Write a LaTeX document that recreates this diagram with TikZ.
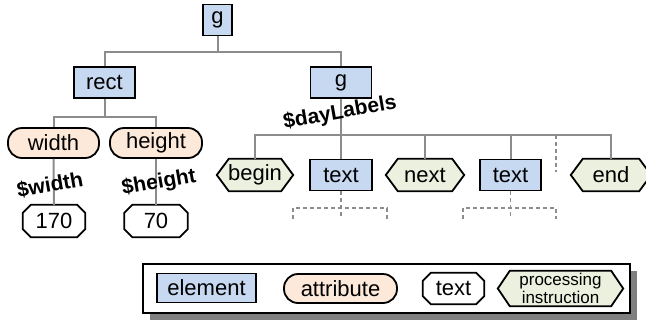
\documentclass[tikz,border=0pt]{standalone}
\usepackage{fontspec}
\setmainfont{Liberation Sans}
\usetikzlibrary{calc}
\pgfdeclarelayer{bg}
\pgfsetlayers{bg,main}
\definecolor{elemblue}{HTML}{C6D9F1}
\definecolor{attrpeach}{HTML}{FDE9D9}
\definecolor{pigreen}{HTML}{EBF1DE}
\definecolor{conngray}{HTML}{8C8C8C}
\definecolor{shadowgray}{HTML}{808080}
\tikzset{
  shapeline/.style={draw=black, line width=1.8pt, line join=miter},
}
\newcommand\octoshape[1]{%
  \begin{pgfonlayer}{bg}
  \path[shapeline, fill=white]
    ([xshift=8pt]#1.north west) -- ([xshift=-8pt]#1.north east)
    -- ([yshift=-8pt]#1.north east) -- ([yshift=8pt]#1.south east)
    -- ([xshift=-8pt]#1.south east) -- ([xshift=8pt]#1.south west)
    -- ([yshift=8pt]#1.south west) -- ([yshift=-8pt]#1.north west) -- cycle;
  \end{pgfonlayer}}
\newcommand\hexshape[1]{%
  \begin{pgfonlayer}{bg}
  \path[shapeline, fill=pigreen]
    (#1.west) -- ([xshift=12pt]#1.north west) -- ([xshift=-12pt]#1.north east)
    -- (#1.east) -- ([xshift=-12pt]#1.south east) -- ([xshift=12pt]#1.south west) -- cycle;
  \end{pgfonlayer}}
\begin{document}
\begin{tikzpicture}[x=1pt,y=-1pt,
  every node/.style={inner sep=0pt, font=\fontsize{22}{25}\selectfont},
  elem/.style={draw=black, line width=1.8pt, fill=elemblue, minimum height=31pt},
  attr/.style={draw=black, line width=1.8pt, fill=attrpeach, rounded corners=14pt, minimum height=30pt},
  txtbox/.style={minimum height=32pt},
  pibox/.style={minimum height=32pt},
  conn/.style={draw=conngray, line width=2pt},
  dashconn/.style={draw=conngray, line width=1.5pt, dash pattern=on 4pt off 3pt},
  lbl/.style={font=\fontsize{21}{24}\selectfont\bfseries, rotate=10},
]
\useasboundingbox (0,0) rectangle (646,322);

% legend frame (background layer, below the legend shapes)
\begin{pgfonlayer}{bg}
\fill[shadowgray] (150,271) rectangle (637,320);
\draw[fill=white, line width=1.2pt] (143,264) rectangle (630,313);
\end{pgfonlayer}

% tree nodes
\node[elem, minimum width=29pt] (g0) at (217.5,20) {g};
\node[elem, minimum width=61pt] (rect) at (104.5,82.5) {rect};
\node[elem, minimum width=61pt] (g1) at (341,82.5) {g};
\node[attr, minimum width=91pt] (wattr) at (53.5,143) {width};
\node[attr, minimum width=92pt] (hattr) at (156,143) {height};
\node[txtbox, minimum width=62pt] (v170) at (54,221) {170};
\node[txtbox, minimum width=63pt] (v70) at (156,221) {70};
\node[pibox, minimum width=76pt] (begin) at (255,175) {begin};
\node[elem, minimum width=62pt] (text1) at (341,175) {text};
\node[pibox, minimum width=78pt] (next) at (425,175) {next};
\node[elem, minimum width=61pt] (text2) at (510.5,175) {text};
\node[pibox, minimum width=80pt] (end) at (611,175) {end};
\octoshape{v170}
\octoshape{v70}
\hexshape{begin}
\hexshape{next}
\hexshape{end}

% helper coordinates
\coordinate (bar0) at (0,52);
\coordinate (bar1) at (0,117);
\coordinate (bar2) at (0,135);
\coordinate (bar3) at (0,208);
\coordinate (dash1) at (556,172);
\coordinate (t1l) at (293,219);
\coordinate (t1r) at (387,219);
\coordinate (t2l) at (463,219);
\coordinate (t2r) at (556,219);

% connectors
\draw[conn] (g0.south) -- (g0.south |- bar0);
\draw[conn] (rect.north) -- (rect.north |- bar0) -- (g1.north |- bar0) -- (g1.north);
\draw[conn] (rect.south) -- (rect.south |- bar1);
\draw[conn] (wattr.north) -- (wattr.north |- bar1) -- (hattr.north |- bar1) -- (hattr.north);
\draw[conn] (wattr.south) -- (v170.north);
\draw[conn] (hattr.south) -- (v70.north);
\draw[conn] (g1.south) -- (text1.north);
\draw[conn] (begin.north) -- (begin.north |- bar2) -- (end.north |- bar2) -- (end.north);
\draw[conn] (next.north) -- (next.north |- bar2);
\draw[conn] (text2.north) -- (text2.north |- bar2);
\draw[dashconn] (dash1 |- bar2) -- (dash1);
\draw[dashconn] (text1.south) -- (text1.south |- t1l);
\draw[dashconn] (t1l) -- (t1l |- bar3) -- (t1r |- bar3) -- (t1r);
\draw[dashconn] (text2.south) -- (text2.south |- t2l);
\draw[dashconn] (t2l) -- (t2l |- bar3) -- (t2r |- bar3) -- (t2r);

% binding labels
\node[lbl] (lw) at (50,185) {\$width};
\node[lbl] (lh) at (159,183) {\$height};
\node[lbl] (ld) at (340,113) {\$dayLabels};

% legend items
\node[elem, minimum width=99pt, minimum height=29pt] (lelem) at (206.5,288) {element};
\node[attr, minimum width=113pt, minimum height=29pt] (lattr) at (340.5,288.5) {attribute};
\node[txtbox, minimum width=61pt, minimum height=31pt] (ltext) at (453.5,288.5) {text};
\node[pibox, minimum width=125pt, minimum height=35pt, align=center,
      font=\fontsize{17}{17.5}\selectfont] (lpi) at (560.5,288.5) {processing\\instruction};
\octoshape{ltext}
\hexshape{lpi}
\end{tikzpicture}
\end{document}
